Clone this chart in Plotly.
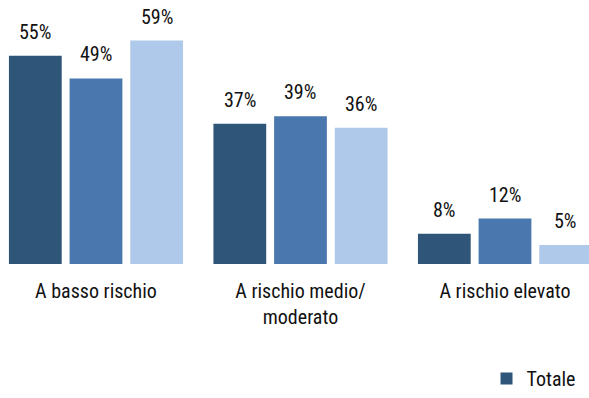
import plotly.graph_objects as go

# Risk categories and percentage shares per series
categories = ["A basso rischio", "A rischio medio/<br>moderato", "A rischio elevato"]
series_names = ["Totale", "Maschi", "Femmine"]
totale = [55, 37, 8]
maschi = [49, 39, 12]
femmine = [59, 36, 5]
series_values = [totale, maschi, femmine]
colors = ["#2F5678", "#4A78AE", "#AEC9EA"]

FONT = "Liberation Sans Narrow, Arial Narrow, Roboto Condensed, sans-serif"
TEXT_COLOR = "#111111"

BARGAP = 0.11
GROUPGAP = 0.13

x_pos = list(range(len(categories)))

fig = go.Figure()
for name, vals, col in zip(series_names, series_values, colors):
    fig.add_trace(go.Bar(
        x=x_pos,
        y=vals,
        name=name,
        marker=dict(color=col, line=dict(width=0)),
        showlegend=(name == "Totale"),
        hoverinfo="skip",
    ))

# Value labels above each bar, offset within the group slot
n = len(series_values)
slot = (1 - BARGAP) / n
for j, vals in enumerate(series_values):
    off = (j - (n - 1) / 2) * slot
    for i, v in enumerate(vals):
        fig.add_annotation(
            x=x_pos[i] + off, y=v, xref="x", yref="y",
            text=f"{v}%", showarrow=False,
            yanchor="bottom", yshift=10,
            font=dict(family=FONT, size=20, color=TEXT_COLOR),
        )

fig.update_layout(
    width=589, height=398,
    margin=dict(l=0, r=0, t=0, b=134, autoexpand=False),
    paper_bgcolor="white", plot_bgcolor="white",
    barmode="group", bargap=BARGAP, bargroupgap=GROUPGAP,
    font=dict(family=FONT, size=20, color=TEXT_COLOR),
    showlegend=True,
    legend=dict(
        orientation="v", xref="container", x=0.826, xanchor="left",
        yref="container", y=0.0, yanchor="bottom",
        font=dict(family=FONT, size=20, color=TEXT_COLOR),
        bgcolor="rgba(0,0,0,0)", borderwidth=0,
    ),
    xaxis=dict(
        range=[-0.4694, 2.4108],
        tickmode="array", tickvals=x_pos, ticktext=categories,
        showgrid=False, zeroline=False, showline=False,
        ticks="", ticklabelstandoff=13, automargin=False,
        tickfont=dict(family=FONT, size=20, color=TEXT_COLOR),
        fixedrange=True,
    ),
    yaxis=dict(
        range=[0, 69.7],
        visible=False, showgrid=False, zeroline=False,
        fixedrange=True,
    ),
)

fig.write_html("out.html")
